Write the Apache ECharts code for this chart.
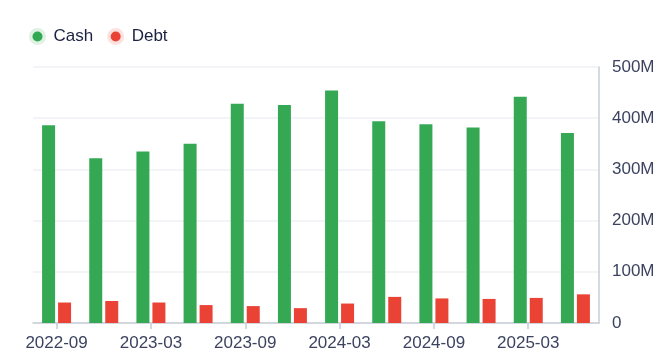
<!DOCTYPE html>
<html>
<head>
<meta charset="utf-8">
<script src="https://cdn.jsdelivr.net/npm/echarts@6/dist/echarts.min.js"></script>
<style>
html,body{margin:0;padding:0;background:#fff;}
#chart{width:668px;height:356px;}
</style>
</head>
<body>
<div id="chart"></div>
<script>
const categories = ['2022-09','2022-12','2023-03','2023-06','2023-09','2023-12','2024-03','2024-06','2024-09','2024-12','2025-03','2025-06'];
const cashValues = [386, 322, 335, 350, 428, 426, 454, 394, 388, 382, 442, 371];
const debtValues = [40, 43, 40, 35, 33, 29, 38, 51, 48, 47, 49, 56];
const yTicks = [0, 100, 200, 300, 400, 500];

const GREEN = '#34a853';
const RED = '#ea4335';
const FONT = '"Liberation Sans", Arial, Helvetica, sans-serif';

const chart = echarts.init(document.getElementById('chart'), null, {renderer: 'canvas'});
chart.setOption({
  animation: false,
  textStyle: {fontFamily: FONT},
  legend: {
    left: 24,
    top: 23,
    icon: 'circle',
    itemWidth: 22,
    itemHeight: 10,
    itemGap: 14,
    textStyle: {fontFamily: FONT, fontSize: 17, color: '#1b2140'},
    data: [
      {name: 'Cash', itemStyle: {color: GREEN, borderColor: 'rgba(52,168,83,0.16)', borderWidth: 7}},
      {name: 'Debt', itemStyle: {color: RED, borderColor: 'rgba(234,67,53,0.16)', borderWidth: 7}}
    ]
  },
  grid: {left: 33, right: 69, top: 67, bottom: 33, containLabel: false},
  xAxis: {
    type: 'category',
    data: categories,
    axisLine: {show: true, lineStyle: {color: '#c7ccd6', width: 1.5}},
    axisTick: {show: true, interval: 1, alignWithLabel: true, length: 6, lineStyle: {color: '#c7ccd6', width: 1.5}},
    axisLabel: {interval: 1, margin: 12, fontFamily: FONT, fontSize: 17, color: '#3c4360'},
    splitLine: {show: false}
  },
  yAxis: {
    type: 'value',
    position: 'right',
    min: yTicks[0],
    max: yTicks[yTicks.length - 1],
    interval: 100,
    axisLine: {show: true, lineStyle: {color: '#c7ccd6', width: 1.5}},
    axisTick: {show: false},
    axisLabel: {
      margin: 13,
      fontFamily: FONT,
      fontSize: 17,
      color: '#3c4360',
      formatter: v => (v === 0 ? '0' : v + 'M')
    },
    splitLine: {show: true, lineStyle: {color: '#eef1f6', width: 1.5}}
  },
  series: [
    {name: 'Cash', type: 'bar', data: cashValues, barWidth: 13, barGap: '23%', itemStyle: {color: GREEN}},
    {name: 'Debt', type: 'bar', data: debtValues, barWidth: 13, barGap: '23%', itemStyle: {color: RED}}
  ]
});
</script>
</body>
</html>
